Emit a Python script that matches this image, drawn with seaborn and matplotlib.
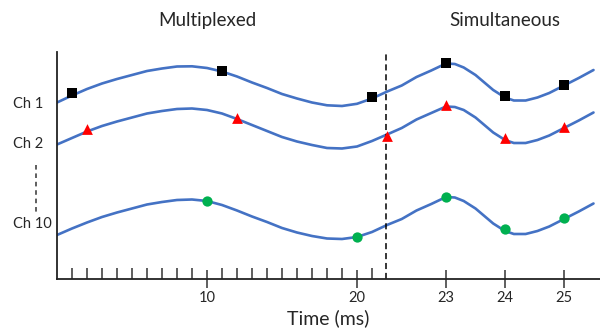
import numpy as np
import matplotlib
matplotlib.use("Agg")
import matplotlib.pyplot as plt
import matplotlib.transforms as mtransforms
import seaborn as sns

t = [0, 1, 2, 3, 4, 5, 6, 7, 8, 9, 10, 11, 12, 13, 14, 15, 16, 17, 18, 19, 20, 21, 22,
     22.25, 22.5, 22.75, 23, 23.15, 23.3, 23.5, 23.65, 23.8, 24, 24.15, 24.35, 24.55,
     24.75, 25, 25.25, 25.5]

ch1 = [176.5, 183.5, 190, 195.5, 200, 204, 208, 210.5, 212.5, 212.7, 211, 207.5, 202.5,
       196.5, 191, 185, 180.5, 176.5, 173.7, 173, 175.2, 180.5, 187.4, 193.5, 202, 208.5,
       215.5, 215, 211.5, 204, 196.5, 189, 181.5, 178.5, 178.5, 181.5, 186, 193.5, 201, 209]
ch2 = [134.5, 141, 147.5, 153, 157.5, 161.5, 165.5, 168, 170, 170.5, 169, 165.5, 160,
       154, 148, 142, 137.5, 134, 131, 130.5, 132.5, 138, 144.5, 151, 159.5, 166,
       172.5, 172, 169, 161.5, 154, 146.5, 139, 136, 136, 139, 143.5, 151, 158.5, 166.5]
ch10 = [44, 50.5, 56.5, 62, 66.5, 70.5, 74.5, 77, 79, 79.5, 78, 74, 68.5, 62.5, 57, 51,
        46.5, 43, 40.5, 40, 42, 47, 54, 60, 68.5, 75, 82, 81.5, 78, 70.5, 63, 55.5, 48,
        45, 45, 48, 52.5, 60, 67.5, 75.5]

# sample instants
ch1_t = [1, 11, 21, 23, 24, 25]
ch1_s = [185.7, 208, 181.7, 216.3, 182.7, 194]
ch2_t = [2, 12, 22, 23, 24, 25]
ch2_s = [150, 161.3, 143, 174, 140.7, 151.7]
ch10_t = [10, 20, 23, 24, 25]
ch10_s = [78.3, 41.7, 82.3, 50, 61.3]

major_ticks = [10, 20, 23, 24, 25]
minor_ticks = [1, 2, 3, 4, 5, 6, 7, 8, 9, 11, 12, 13, 14, 15, 16, 17, 18, 19, 21]
ch_labels = ["Ch 1", "Ch 2", "Ch 10"]
ch_label_y = [177, 136, 56]
split_t = 21.95


# time axis is stretched after 22 ms
def fwd(x):
    x = np.asarray(x, dtype=float)
    return np.where(x <= 22, x, 22 + (x - 22) * 59 / 15)


def inv(x):
    x = np.asarray(x, dtype=float)
    return np.where(x <= 22, x, 22 + (x - 22) * 15 / 59)


sns.set_style("ticks")
plt.rcParams["font.family"] = ["Lato", "DejaVu Sans"]

fig = plt.figure(figsize=(6, 3.28), dpi=100)
ax = fig.add_axes([57 / 600, 49 / 328, 543 / 600, 227 / 328])
ax.set_xscale("function", functions=(fwd, inv))

blue = "#4472C4"
for ch in [ch1, ch2, ch10]:
    sns.lineplot(x=t, y=ch, color=blue, linewidth=1.9, ax=ax, sort=False,
                 estimator=None, zorder=2)

sns.scatterplot(x=ch1_t, y=ch1_s, marker="s", color="black", s=55, linewidth=0,
                ax=ax, zorder=3)
sns.scatterplot(x=ch2_t, y=ch2_s, marker="^", color="#FF0000", s=60, linewidth=0,
                ax=ax, zorder=3)
sns.scatterplot(x=ch10_t, y=ch10_s, marker="o", color="#00B050", s=55, linewidth=0,
                ax=ax, zorder=3)

ax.axvline(split_t, color="black", linestyle=(0, (4, 2.5)), linewidth=1.1)

ax.set_xlim(0, 25.61)
ax.set_ylim(0, 227)

ax.set_xticks(major_ticks)
ax.set_xticklabels([str(v) for v in major_ticks])
ax.set_xticks(minor_ticks, minor=True)
ax.tick_params(axis="x", which="major", direction="inout", length=13.5, width=1.1,
               color="#333333", labelsize=10.5, pad=2)
ax.tick_params(axis="x", which="minor", direction="in", length=8, width=1.1,
               color="#333333")

ax.set_yticks(ch_label_y)
ax.set_yticklabels(ch_labels)
ax.tick_params(axis="y", length=0, labelsize=10.5, pad=31.5)
for lab in ax.get_yticklabels():
    lab.set_horizontalalignment("left")

ax.set_xlabel("Time (ms)", fontsize=14, labelpad=3)

for s in ["top", "right"]:
    ax.spines[s].set_visible(False)
for s in ["left", "bottom"]:
    ax.spines[s].set_linewidth(1.3)
    ax.spines[s].set_color("#222222")

ax.text(10, 1.14, "Multiplexed", transform=ax.get_xaxis_transform(), ha="center",
        va="center", fontsize=13.5)
ax.text(24, 1.14, "Simultaneous", transform=ax.get_xaxis_transform(), ha="center",
        va="center", fontsize=13.5)

# vertical dots between Ch 2 and Ch 10
trans = mtransforms.blended_transform_factory(fig.transFigure, ax.transData)
ax.plot([36 / 600, 36 / 600], [114, 64], transform=trans, clip_on=False,
        color="#333333", linestyle=(0, (3, 2.5)), linewidth=1.1)

fig.savefig("out.png", dpi=100)
